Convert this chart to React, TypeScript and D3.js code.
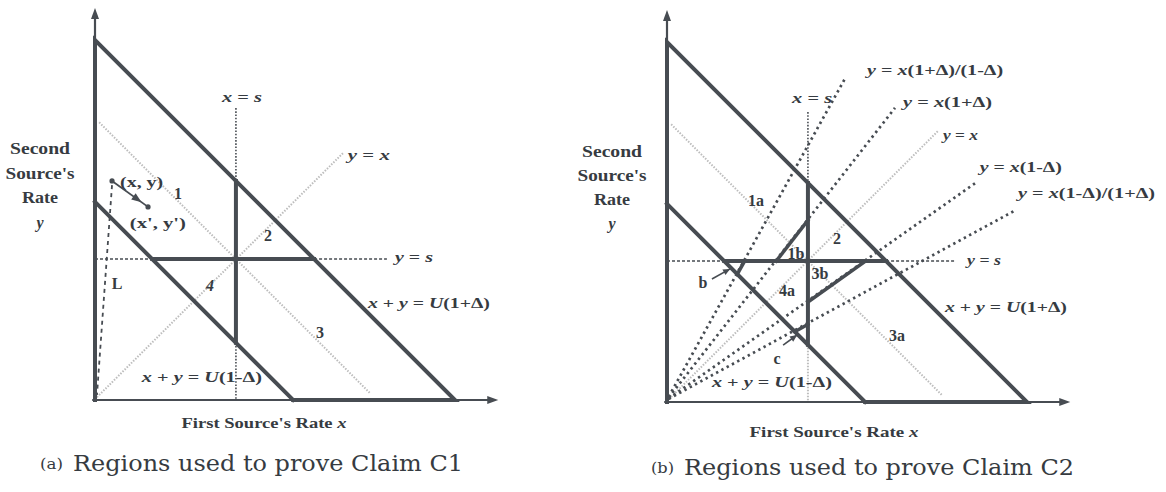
import React from "react";
import * as d3 from "d3";

// ---- model quantities (diagram units) ----
const U = 100;
const DELTA = 0.29;
const S = 50.5;
const HI = U * (1 + DELTA);
const LO = U * (1 - DELTA);
const AXIS_X_END = 144.5;
const AXIS_Y_END = 140.5;

// ---- texts ----
const yTitleLines = ["Second", "Source's", "Rate", "y"];
const xTitle = "First Source's Rate x";
const captionTags = ["(a)", "(b)"];
const captionTexts = ["Regions used to prove Claim C1", "Regions used to prove Claim C2"];
const lineNames = ["x = s", "y = s", "y = x", "x + y = U(1+Δ)", "x + y = U(1-Δ)"];

// ---- panel (a) annotations (diagram units) ----
const regionNamesA = ["1", "2", "3", "4"];
const regionXA = [29.7, 62.0, 80.6, 41.2];
const regionYA = [74.2, 59.1, 24.4, 41.2];
const pointXY = [6.1, 78.5];
const pointXYPrime = [19.0, 69.2];
const pathL = [[6.1, 77.0], [0.7, 1.8]];
const pointNames = ["(x, y)", "(x', y')", "L"];
const pointLabelX = [9.0, 12.5, 7.9];
const pointLabelY = [78.1, 63.4, 41.9];
const lineLabelXA = [52.7, 107.5, 90.6, 97.8, 16.8];
const lineLabelYA = [108.6, 51.2, 87.8, 34.8, 8.2];
const dotEndA = 104.6;

// ---- panel (b) annotations ----
const regionNamesB = ["1a", "1b", "2", "3a", "3b", "4a", "b", "c"];
const regionXB = [31.9, 46.2, 60.9, 82.4, 54.8, 43.0, 12.9, 39.4];
const regionYB = [72.4, 53.4, 58.8, 24.0, 46.2, 40.1, 43.0, 15.8];
const lineLabelXB = [52.0, 107.5, 0, 99.6, 16.1];
const lineLabelYB = [108.9, 50.9, 0, 34.0, 7.2];
const dotEndBx = 103.9;
const dotEndBy = 103.2;
const rayNames = ["y = x(1+Δ)/(1-Δ)", "y = x(1+Δ)", "y = x", "y = x(1-Δ)", "y = x(1-Δ)/(1+Δ)"];
const raySlopes = [(1 + DELTA) / (1 - DELTA), 1 + DELTA, 1, 1 - DELTA, (1 - DELTA) / (1 + DELTA)];
const rayEndX = [64.1, 81.7, 97.1, 111.1, 124.7];
const rayLabelX = [71.7, 84.6, 98.9, 112.1, 125.8];
const rayLabelY = [119.0, 107.5, 95.7, 84.2, 74.9];
const arrowB = [[16.1, 44.1], [22.6, 47.7]];
const arrowC = [[41.6, 20.4], [46.6, 24.0]];

// ---- styles ----
const INK = "#474c52";
const TXT = "#363b41";
const GRAY = "#bdbdbd";
const FONT = "Liberation Serif";
const CAPFONT = "DejaVu Serif";

type Pt = [number, number];

function MathText(props: {
  x: number; y: number; text: string; size?: number; width?: number;
  anchor?: "start" | "middle" | "end"; italic?: string; weight?: any;
}) {
  const { x, y, text, size = 15, width, anchor = "start", italic = "xysU", weight = "bold" } = props;
  const runs: { t: string; it: boolean }[] = [];
  for (const ch of text) {
    const it = italic.includes(ch);
    const last = runs[runs.length - 1];
    if (last && last.it === it) last.t += ch;
    else runs.push({ t: ch, it });
  }
  const extra: any = width ? { textLength: width, lengthAdjust: "spacingAndGlyphs" } : {};
  return (
    <text x={x} y={y} fontFamily={FONT} fontSize={size} fill={TXT} textAnchor={anchor}
      dominantBaseline="central" fontWeight={weight} style={{ whiteSpace: "pre" }} {...extra}>
      {runs.map((r, i) => (
        <tspan key={i} fontStyle={r.it ? "italic" : "normal"}>{r.t}</tspan>
      ))}
    </text>
  );
}

function arrowHead(from: Pt, to: Pt, len: number, half: number) {
  const dx = to[0] - from[0], dy = to[1] - from[1];
  const d = Math.hypot(dx, dy) || 1;
  const ux = dx / d, uy = dy / d;
  const bx = to[0] - ux * len, by = to[1] - uy * len;
  return `${to[0]},${to[1]} ${bx - uy * half},${by + ux * half} ${bx + uy * half},${by - ux * half}`;
}

function Panel(props: { ox: number; oy: number; kind: "a" | "b"; ytx: number; yty: number[]; xtx: number; xty: number; xtw: number; capX: number; capY: number }) {
  const { ox, oy, kind } = props;
  const span = 360;
  const xs = d3.scaleLinear().domain([0, HI]).range([ox, ox + span]);
  const ys = d3.scaleLinear().domain([0, HI]).range([oy, oy - span]);
  const line = d3.line<Pt>().x((d) => xs(d[0])).y((d) => ys(d[1]));
  const P = (x: number, y: number): Pt => [xs(x), ys(y)];

  const thick = { stroke: INK, strokeWidth: 4, fill: "none", strokeLinejoin: "miter" as const, strokeLinecap: "square" as const };
  const dotDark = { stroke: INK, strokeWidth: 1.6, fill: "none", strokeDasharray: "1.6 1.6" };
  const dotGray = { stroke: GRAY, strokeWidth: 2, fill: "none", strokeDasharray: "1.5 1.5" };
  const dotRay = { stroke: INK, strokeWidth: 2.7, fill: "none", strokeDasharray: "2.4 3.6" };

  const lx = kind === "a" ? lineLabelXA : lineLabelXB;
  const ly = kind === "a" ? lineLabelYA : lineLabelYB;
  const dEndX = kind === "a" ? dotEndA : dotEndBx;
  const dEndY = kind === "a" ? dotEndA : dotEndBy;

  const axisTopY = ys(AXIS_Y_END);
  const axisEndX = xs(AXIS_X_END);

  const segs: JSX.Element[] = [];

  // gray guide lines
  segs.push(<path key="gyx" d={line([[0.7, 1], kind === "a" ? [88.9, 88.5] : [rayEndX[2], rayEndX[2]]])!} {...dotGray} />);
  segs.push(<path key="gad" d={line([[1.5, 2 * S - 1.5], [98.5, 2 * S - 98.5]])!} {...dotGray} />);

  // dotted extensions of x = s and y = s
  segs.push(<path key="dxs1" d={line([[S, dEndX], [S, HI - S]])!} {...dotDark} />);
  segs.push(<path key="dxs2" d={line([[S, LO - S], [S, 0]])!} {...(kind === "a" ? dotDark : dotGray)} />);
  segs.push(<path key="dys1" d={line([[0, S], [LO - S, S]])!} {...dotDark} strokeDasharray="3 2" />);
  segs.push(<path key="dys2" d={line([[HI - S, S], [dEndY, S]])!} {...dotDark} strokeDasharray="3 2" />);

  // rays (panel b)
  if (kind === "b") {
    raySlopes.forEach((m, i) => {
      if (i === 2) return;
      segs.push(<path key={"ray" + i} d={line([[0.6, 0.6 * m + 0.8], [rayEndX[i], rayEndX[i] * m]])!} {...dotRay} />);
    });
  }

  // axes (thin parts)
  segs.push(<path key="ax" d={line([[-1, 0], [AXIS_X_END - 3, 0]])!} stroke={INK} strokeWidth={2.2} fill="none" />);
  segs.push(<path key="ay" d={line([[0, HI], [0, AXIS_Y_END - 3]])!} stroke={INK} strokeWidth={2.2} fill="none" />);
  segs.push(<polygon key="axh" points={`${axisEndX},${oy} ${axisEndX - 11},${oy - 4} ${axisEndX - 11},${oy + 4}`} fill={INK} />);
  segs.push(<polygon key="ayh" points={`${ox},${axisTopY} ${ox - 4},${axisTopY + 11} ${ox + 4},${axisTopY + 11}`} fill={INK} />);

  // thick region boundary
  segs.push(<path key="band" d={line([[LO, 0], [HI, 0], [0, HI], [0, 0]])!} {...thick} />);
  segs.push(<path key="low" d={line([[0, LO], [LO, 0]])!} {...thick} />);
  segs.push(<path key="vs" d={line([[S, HI - S], [S, LO - S]])!} {...thick} />);
  segs.push(<path key="hs" d={line([[LO - S, S], [HI - S, S]])!} {...thick} />);

  if (kind === "b") {
    const m1 = raySlopes[0], m2 = raySlopes[1], m4 = raySlopes[3], m5 = raySlopes[4];
    segs.push(<path key="t1b" d={line([[S / m2, S], [S, S * m2]])!} {...thick} strokeWidth={3.5} />);
    segs.push(<path key="t3b" d={line([[S, S * m4], [S / m4, S]])!} {...thick} strokeWidth={3.5} />);
    segs.push(<path key="tb" d={line([[LO / (1 + m1), (LO * m1) / (1 + m1)], [S / m1, S]])!} {...thick} strokeWidth={3.5} />);
    segs.push(<path key="tc" d={line([[LO / (1 + m5), (LO * m5) / (1 + m5)], [S, S * m5]])!} {...thick} strokeWidth={3.5} />);
    [arrowB, arrowC].forEach((a, i) => {
      const f = P(a[0][0], a[0][1]);
      const t = P(a[1][0], a[1][1]);
      segs.push(<line key={"arl" + i} x1={f[0]} y1={f[1]} x2={t[0]} y2={t[1]} stroke={INK} strokeWidth={1.6} />);
      segs.push(<polygon key={"arh" + i} points={arrowHead(f, t, 7, 3.2)} fill={INK} />);
    });
  }

  if (kind === "a") {
    const p0 = P(pointXY[0], pointXY[1]);
    const p1 = P(pointXYPrime[0], pointXYPrime[1]);
    const tip: Pt = [p0[0] + (p1[0] - p0[0]) * 0.82, p0[1] + (p1[1] - p0[1]) * 0.82];
    segs.push(<line key="pl" x1={p0[0]} y1={p0[1]} x2={p1[0]} y2={p1[1]} stroke={INK} strokeWidth={1.8} />);
    segs.push(<polygon key="ph" points={arrowHead(p0, tip, 10, 3.8)} fill={INK} />);
    segs.push(<circle key="pc0" cx={p0[0]} cy={p0[1]} r={2.6} fill={INK} />);
    segs.push(<circle key="pc1" cx={p1[0]} cy={p1[1]} r={2.6} fill={INK} />);
    segs.push(<path key="Ld" d={line(pathL as Pt[])!} stroke={INK} strokeWidth={1.8} fill="none" strokeDasharray="4 4" />);
  }

  // labels
  const labels: JSX.Element[] = [];
  labels.push(<MathText key="lxs" x={xs(lx[0])} y={ys(ly[0])} text={lineNames[0]} anchor="middle" width={40} />);
  labels.push(<MathText key="lys" x={xs(lx[1])} y={ys(ly[1])} text={lineNames[1]} width={kind === "a" ? 38 : 34} />);
  if (kind === "a") labels.push(<MathText key="lyx" x={xs(lx[2])} y={ys(ly[2])} text={lineNames[2]} width={42} />);
  labels.push(<MathText key="lhi" x={xs(lx[3])} y={ys(ly[3])} text={lineNames[3]} width={122} />);
  labels.push(<MathText key="llo" x={xs(lx[4])} y={ys(ly[4])} text={lineNames[4]} width={120} />);

  if (kind === "a") {
    regionNamesA.forEach((n, i) => labels.push(
      <MathText key={"ra" + i} x={xs(regionXA[i])} y={ys(regionYA[i])} text={n} anchor="middle" size={16} italic={i === 3 ? "4" : ""} />));
    labels.push(<MathText key="pn0" x={xs(pointLabelX[0])} y={ys(pointLabelY[0])} text={pointNames[0]} width={43} italic="" />);
    labels.push(<MathText key="pn1" x={xs(pointLabelX[1])} y={ys(pointLabelY[1])} text={pointNames[1]} width={56} italic="" />);
    labels.push(<MathText key="pn2" x={xs(pointLabelX[2])} y={ys(pointLabelY[2])} text={pointNames[2]} anchor="middle" italic="" size={16} />);
  } else {
    regionNamesB.forEach((n, i) => labels.push(
      <MathText key={"rb" + i} x={xs(regionXB[i])} y={ys(regionYB[i])} text={n} anchor="middle" size={16} italic="" />));
    const rw = [136, 89, 35, 82, 137];
    rayNames.forEach((n, i) => labels.push(
      <MathText key={"rn" + i} x={xs(rayLabelX[i])} y={ys(rayLabelY[i])} text={n} width={rw[i]} />));
  }

  // axis titles
  const titles: JSX.Element[] = [];
  const ytw = [60, 69, 36, 0];
  yTitleLines.forEach((t, i) => titles.push(
    <MathText key={"yt" + i} x={props.ytx} y={props.yty[i]} text={t} anchor="middle" size={16}
      italic={i === 3 ? "y" : ""} width={ytw[i] || undefined} />));
  titles.push(<MathText key="xt" x={props.xtx} y={props.xty} text={xTitle} anchor="middle" size={15}
    italic="x" width={props.xtw} />);

  const ci = kind === "a" ? 0 : 1;
  return (
    <g>
      {segs}
      {labels}
      {titles}
      <text x={props.capX} y={props.capY + 1} fontFamily={CAPFONT} fontSize={14} fill={TXT} dominantBaseline="central"
        textLength={23} lengthAdjust="spacingAndGlyphs">{captionTags[ci]}</text>
      <text x={props.capX + 33} y={props.capY} fontFamily={CAPFONT} fontSize={22} fill={TXT} dominantBaseline="central"
        textLength={390} lengthAdjust="spacingAndGlyphs">{captionTexts[ci]}</text>
    </g>
  );
}

export default function App() {
  return (
    <svg width={1166} height={492} style={{ position: "absolute", left: 0, top: 0, background: "#fff" }}>
      <rect x={0} y={0} width={1166} height={492} fill="#fff" />
      <Panel kind="a" ox={95} oy={400} ytx={40} yty={[148, 173, 197, 222]} xtx={264} xty={423} xtw={165} capX={40} capY={463} />
      <Panel kind="b" ox={667} oy={402} ytx={612} yty={[151, 175, 199, 223]} xtx={834} xty={432} xtw={169} capX={651} capY={467} />
    </svg>
  );
}
